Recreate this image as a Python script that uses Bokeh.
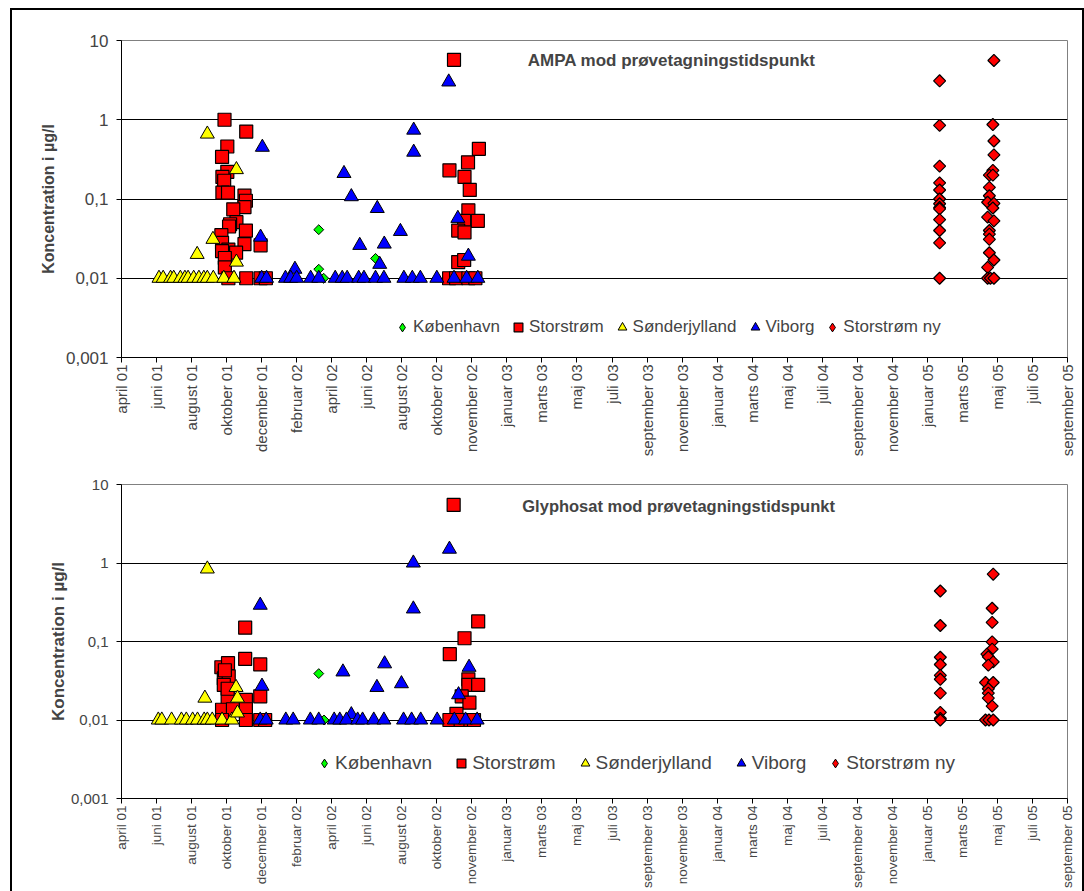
import numpy as np
from bokeh.plotting import figure
from bokeh.layouts import column
from bokeh.models import Range1d, FixedTicker, CustomJSTickFormatter, Label
from bokeh.embed import file_html
from bokeh.resources import INLINE

# ---------------- data ----------------
month_labels = ["april 01", "juni 01", "august 01", "oktober 01", "december 01", "februar 02",
                "april 02", "juni 02", "august 02", "oktober 02", "november 02", "januar 03",
                "marts 03", "maj 03", "juli 03", "september 03", "november 03", "januar 04",
                "marts 04", "maj 04", "juli 04", "september 04", "november 04", "januar 05",
                "marts 05", "maj 05", "juli 05", "september 05"]
y_ticks = [0.001, 0.01, 0.1, 1, 10]
series_names = ["København", "Storstrøm", "Sønderjylland", "Viborg", "Storstrøm ny"]

# x positions are in axis-label units (0 = april 01, 27 = september 05)
# ---- AMPA ----
ampa_kbh_x = [5.63, 5.63, 5.77, 7.25]
ampa_kbh_y = [0.041, 0.013, 0.01, 0.0178]

ampa_sto_x = [2.94, 3.56, 3.02, 2.87, 3.02, 2.88, 2.93, 2.88, 3.04, 3.51, 3.55, 3.51, 3.19, 3.28,
              3.10, 3.07, 3.55, 2.85, 2.87, 3.51, 3.05, 3.27, 2.87, 2.95, 2.95, 3.56, 3.05, 3.97,
              3.97, 4.12,
              9.49, 9.36, 9.89, 10.2, 9.79, 9.94, 9.90, 9.78, 10.17, 9.61, 9.79, 9.61, 9.78,
              9.35, 9.55, 9.90, 10.1]
ampa_sto_y = [1.0, 0.71, 0.46, 0.34, 0.22, 0.19, 0.17, 0.12, 0.12, 0.11, 0.095, 0.079, 0.074, 0.051,
              0.048, 0.045, 0.04, 0.035, 0.028, 0.027, 0.023, 0.021, 0.022, 0.018, 0.0137, 0.01, 0.01, 0.026,
              0.01, 0.01,
              5.7, 0.23, 0.29, 0.43, 0.19, 0.13, 0.072, 0.053, 0.053, 0.04, 0.038, 0.016, 0.017,
              0.01, 0.01, 0.01, 0.01]

ampa_sdj_x = [1.07, 1.19, 1.40, 1.49, 1.68, 1.81, 1.90, 2.06, 2.21, 2.35, 2.45, 2.62, 2.92, 3.21,
              2.45, 3.28, 2.61, 2.16, 3.28]
ampa_sdj_y = [0.01, 0.01, 0.01, 0.01, 0.01, 0.01, 0.01, 0.01, 0.01, 0.01, 0.01, 0.01, 0.01, 0.01,
              0.66, 0.235, 0.031, 0.020, 0.016]

ampa_vib_x = [4.02, 3.97, 4.00, 4.14, 4.95, 4.68, 4.83, 5.00, 5.40, 5.63, 6.35, 6.56, 6.10, 6.30,
              6.44, 6.77, 6.92, 6.80, 7.30, 7.37, 7.50, 7.25, 7.49, 7.96, 8.06, 8.30, 8.53, 8.34,
              8.34, 9.00, 9.34, 9.60, 9.90, 9.49, 9.85, 10.17]
ampa_vib_y = [0.45, 0.033, 0.01, 0.01, 0.013, 0.01, 0.01, 0.01, 0.01, 0.01, 0.21, 0.107, 0.01, 0.01,
              0.01, 0.01, 0.01, 0.026, 0.076, 0.015, 0.027, 0.01, 0.01, 0.039, 0.01, 0.01, 0.01, 0.74,
              0.39, 0.01, 3.0, 0.057, 0.019, 0.01, 0.01, 0.01]

ampa_ny_x = [23.35] * 13 + [24.90, 24.87, 24.90, 24.90, 24.87, 24.77, 24.87, 24.77, 24.77, 24.72,
                            24.90, 24.87, 24.72, 24.90, 24.77, 24.77, 24.77, 24.77, 24.90, 24.72,
                            24.72, 24.80, 24.90]
ampa_ny_y = [3.1, 0.85, 0.26, 0.16, 0.13, 0.1, 0.087, 0.078, 0.075, 0.055, 0.04, 0.028, 0.01,
             5.6, 0.87, 0.54, 0.36, 0.23, 0.2, 0.2, 0.14, 0.11, 0.091,
             0.088, 0.077, 0.059, 0.053, 0.04, 0.036, 0.031, 0.021, 0.017, 0.0137,
             0.01, 0.01, 0.01]

# ---- Glyphosat ----
gly_kbh_x = [5.63, 5.78]
gly_kbh_y = [0.039, 0.01]

gly_sto_x = [3.53, 3.53, 3.96, 3.96, 2.85, 3.04, 2.92, 3.06, 2.92, 3.03, 3.55, 2.87, 3.18, 3.55,
             3.55, 2.87, 3.96, 4.10, 2.95, 3.03,
             9.48, 9.37, 9.79, 10.18, 9.90, 9.90, 10.18, 9.71, 9.93, 9.56, 9.36, 9.68, 9.96, 10.06]
gly_sto_y = [0.15, 0.06, 0.051, 0.02, 0.047, 0.053, 0.034, 0.036, 0.028, 0.019, 0.018, 0.0135, 0.0137,
             0.0137, 0.01, 0.01, 0.01, 0.01, 0.043, 0.025,
             5.5, 0.069, 0.11, 0.18, 0.033, 0.028, 0.028, 0.020, 0.0166, 0.012, 0.01, 0.01, 0.01, 0.01]

gly_sdj_x = [1.05, 1.15, 1.43, 1.71, 1.85, 2.03, 2.17, 2.36, 2.45, 2.59, 2.87, 3.15,
             2.45, 2.38, 3.27, 3.31, 3.31]
gly_sdj_y = [0.01, 0.01, 0.01, 0.01, 0.01, 0.01, 0.01, 0.01, 0.01, 0.01, 0.01, 0.01,
             0.84, 0.019, 0.026, 0.019, 0.0123]

gly_vib_x = [3.96, 4.01, 3.96, 4.13, 4.69, 4.90, 5.39, 5.63, 6.32, 6.56, 6.07, 6.23, 6.42, 6.74,
             6.88, 7.20, 7.49, 7.29, 7.51, 7.99, 8.05, 8.28, 8.54, 8.33, 8.33, 9.01, 9.36, 9.92,
             9.62, 9.50, 9.82, 10.15]
gly_vib_y = [0.29, 0.027, 0.01, 0.01, 0.01, 0.01, 0.01, 0.01, 0.041, 0.0117, 0.01, 0.01, 0.01, 0.01,
             0.01, 0.01, 0.01, 0.026, 0.052, 0.029, 0.01, 0.01, 0.01, 1.0, 0.26, 0.01, 1.5, 0.047,
             0.021, 0.01, 0.01, 0.01]

gly_ny_x = [23.37] * 10 + [24.88, 24.85, 24.85, 24.85, 24.85, 24.70, 24.74, 24.88, 24.74, 24.66,
                           24.88, 24.74, 24.74, 24.74, 24.85, 24.66, 24.76, 24.88]
gly_ny_y = [0.44, 0.16, 0.063, 0.051, 0.037, 0.033, 0.022, 0.0125, 0.0105, 0.01,
            0.72, 0.265, 0.175, 0.099, 0.08, 0.069, 0.064, 0.055, 0.05, 0.030,
            0.030, 0.025, 0.022, 0.019, 0.015, 0.01, 0.01, 0.01]

FONT = "Liberation Sans"


def make_chart(width, height, mb_left, mb_right, mb_top, mb_bottom, title, title_x, title_y,
               title_font, data, legend_loc, legend_font, legend_spacing,
               tick_font_x, tick_font_y, ylab_font, ylab_standoff):
    p = figure(width=width, height=height, output_backend="svg", toolbar_location=None,
               y_axis_type="log", x_range=Range1d(0, 27), y_range=Range1d(0.001, 10),
               min_border_left=mb_left, min_border_right=mb_right, min_border_top=mb_top,
               min_border_bottom=mb_bottom)
    p.outline_line_color = "#808080"
    p.border_fill_color = "white"
    p.xgrid.visible = False
    p.ygrid.grid_line_color = "black"
    p.ygrid.grid_line_width = 1

    p.xaxis.ticker = FixedTicker(ticks=list(range(len(month_labels))))
    p.xaxis.major_label_overrides = {i: lab for i, lab in enumerate(month_labels)}
    p.xaxis.major_label_orientation = np.pi / 2
    p.xaxis.major_label_text_font = FONT
    p.xaxis.major_label_text_font_size = tick_font_x
    p.xaxis.major_label_standoff = 2
    p.xaxis.minor_tick_line_color = None

    p.yaxis.ticker = FixedTicker(ticks=y_ticks)
    p.yaxis.formatter = CustomJSTickFormatter(code="return String(tick).replace('.', ',');")
    p.yaxis.major_label_text_font = FONT
    p.yaxis.major_label_text_font_size = tick_font_y
    p.yaxis.minor_tick_line_color = None
    p.yaxis.major_label_standoff = 8
    p.yaxis.axis_label = "Koncentration i µg/l"
    p.yaxis.axis_label_text_font = FONT
    p.yaxis.axis_label_text_font_size = ylab_font
    p.yaxis.axis_label_text_font_style = "bold"
    p.yaxis.axis_label_standoff = ylab_standoff

    for ax in (p.xaxis, p.yaxis):
        ax.axis_line_color = "black"
        ax.major_tick_line_color = "black"
        ax.major_tick_in = 0
        ax.major_tick_out = 5

    (kx, ky), (sx, sy), (dx, dy), (vx, vy), (nx, ny) = data
    # København: tiny diamond renderer (covered by the data marks) only supplies the legend glyph
    p.scatter(kx, ky, marker="diamond", size=1, fill_color="#00FF00",
              line_color="black", line_width=1, legend_label=series_names[0])
    p.scatter(kx, ky, marker="square", angle=np.pi / 4, size=7, fill_color="#00FF00",
              line_color="black", line_width=1)
    p.scatter(sx, sy, marker="square", size=13, fill_color="#FF0000",
              line_color="black", line_width=1.2, legend_label=series_names[1])
    p.scatter(dx, dy, marker="triangle", size=14, fill_color="#FFFF00",
              line_color="black", line_width=1, legend_label=series_names[2])
    p.scatter(vx, vy, marker="triangle", size=14, fill_color="#0000FF",
              line_color="black", line_width=1, legend_label=series_names[3])
    p.scatter(nx, ny, marker="diamond", size=1, fill_color="#FF0000",
              line_color="black", line_width=1, legend_label=series_names[4])
    p.scatter(nx, ny, marker="square", angle=np.pi / 4, size=8.5, fill_color="#FF0000",
              line_color="black", line_width=1.2)

    leg = p.legend[0]
    leg.orientation = "horizontal"
    leg.location = legend_loc
    leg.border_line_color = None
    leg.background_fill_alpha = 0
    leg.padding = 0
    leg.margin = 0
    leg.spacing = legend_spacing
    leg.label_standoff = 0
    leg.glyph_width = 22
    leg.glyph_height = 24
    leg.label_text_font = FONT
    leg.label_text_font_size = legend_font

    p.add_layout(Label(x=title_x, y=title_y, text=title, text_font=FONT,
                       text_font_size=title_font, text_font_style="bold",
                       text_align="center", text_baseline="middle"))
    return p


p1 = make_chart(1070, 452, 109, 15, 30, 105, "AMPA mod prøvetagningstidspunkt", 15.7, 5.6, "17px",
                [(ampa_kbh_x, ampa_kbh_y), (ampa_sto_x, ampa_sto_y), (ampa_sdj_x, ampa_sdj_y),
                 (ampa_vib_x, ampa_vib_y), (ampa_ny_x, ampa_ny_y)],
                (270, 18), "17px", 7, "15px", "17px", "16px", 6)

p2 = make_chart(1070, 429, 90, 15, 22, 93, "Glyphosat mod prøvetagningstidspunkt", 15.9, 5.4, "16.5px",
                [(gly_kbh_x, gly_kbh_y), (gly_sto_x, gly_sto_y), (gly_sdj_x, gly_sdj_y),
                 (gly_vib_x, gly_vib_y), (gly_ny_x, gly_ny_y)],
                (192, 23), "19px", 18, "13.5px", "15px", "17px", 0)

layout = column(p1, p2, spacing=0,
                styles={"margin-left": "10px", "margin-top": "8px",
                        "border-left": "2px solid #000", "border-top": "2px solid #000",
                        "border-right": "2px solid #000"})

open("out.html", "w").write(file_html(layout, INLINE))
